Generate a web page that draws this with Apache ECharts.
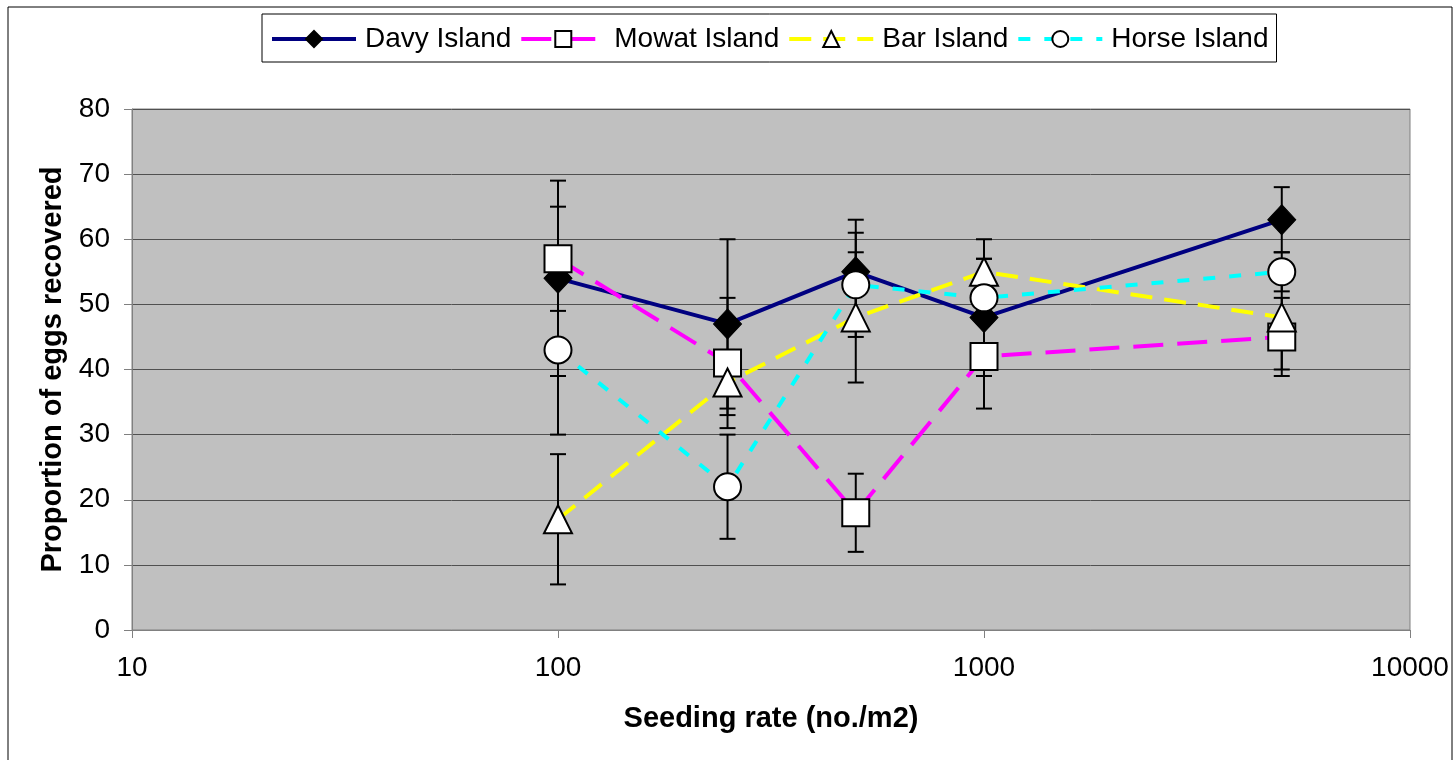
<!DOCTYPE html>
<html>
<head>
<meta charset="utf-8">
<script src="https://cdn.jsdelivr.net/npm/echarts@6/dist/echarts.min.js"></script>
<style>
  html, body { margin: 0; padding: 0; background: #fff; }
  #chart { width: 1456px; height: 760px; }
</style>
</head>
<body>
<div id="chart"></div>
<script>
// seeding rates (no./m2)
const seedingRates = [100, 250, 500, 1000, 5000];

// proportion of eggs recovered, per island
const davy  = [54, 47, 55, 48, 63];
const mowat = [57, 41, 18, 42, 45];
const bar   = [17, 38, 48, 55, 48];
const horse = [43, 22, 53, 51, 55];

// error bar half widths
const davyErr  = [15, 13, 8, 9, 5];
const mowatErr = [8, 10, 6, 8, 6];
const barErr   = [10, 5, 10, 2, 8];
const horseErr = [13, 8, 8, 9, 3];

const yTicks = [0, 10, 20, 30, 40, 50, 60, 70, 80];
const xTicks = [10, 100, 1000, 10000];

const font = 'Liberation Sans, Arial, sans-serif';

function pairs(vals) {
  return seedingRates.map((x, i) => [x, vals[i]]);
}

function errSeries(vals, errs) {
  return {
    type: 'custom',
    z: 1,
    silent: true,
    data: seedingRates.map((x, i) => [x, vals[i], errs[i]]),
    renderItem: function (params, api) {
      const x = api.value(0), y = api.value(1), e = api.value(2);
      const top = api.coord([x, y + e]);
      const bot = api.coord([x, y - e]);
      const w = 8;
      const st = { stroke: '#000', lineWidth: 2 };
      return {
        type: 'group',
        children: [
          { type: 'line', shape: { x1: top[0], y1: top[1], x2: bot[0], y2: bot[1] }, style: st },
          { type: 'line', shape: { x1: top[0] - w, y1: top[1], x2: top[0] + w, y2: top[1] }, style: st },
          { type: 'line', shape: { x1: bot[0] - w, y1: bot[1], x2: bot[0] + w, y2: bot[1] }, style: st }
        ]
      };
    }
  };
}

let myChart = echarts.init(document.getElementById('chart'));

let option = {
  animation: false,
  backgroundColor: '#fff',
  textStyle: { fontFamily: font },
  graphic: [{
    type: 'rect',
    shape: { x: 8, y: 7, width: 1444, height: 800 },
    style: { fill: 'none', stroke: '#000', lineWidth: 1 },
    z: -10
  }],
  legend: {
    data: ['Davy Island', 'Mowat Island', 'Bar Island', 'Horse Island'],
    left: 262,
    top: 14,
    padding: [11, 8, 9, 8],
    itemGap: 8,
    itemWidth: 84,
    itemHeight: 20,
    borderColor: '#000',
    borderWidth: 1,
    lineStyle: { width: 4 },
    textStyle: { fontSize: 28, color: '#000', fontFamily: font, padding: [0, 0, 0, 4] }
  },
  grid: {
    left: 132,
    right: 46,
    top: 109,
    bottom: 130,
    show: true,
    backgroundColor: '#c0c0c0',
    borderColor: '#808080',
    borderWidth: 1
  },
  xAxis: {
    type: 'log',
    logBase: 10,
    min: xTicks[0],
    max: xTicks[xTicks.length - 1],
    name: 'Seeding rate (no./m2)',
    nameLocation: 'middle',
    nameGap: 74,
    nameTextStyle: { fontSize: 29, fontWeight: 'bold', color: '#000', fontFamily: font },
    axisLine: { lineStyle: { color: '#808080', width: 1 } },
    axisTick: { show: true, length: 8, lineStyle: { color: '#808080' } },
    minorTick: { show: false },
    splitLine: { show: false },
    axisLabel: { fontSize: 28, color: '#000', margin: 24, fontFamily: font, formatter: v => String(v) }
  },
  yAxis: {
    type: 'value',
    min: yTicks[0],
    max: yTicks[yTicks.length - 1],
    interval: 10,
    name: 'Proportion of eggs recovered',
    nameLocation: 'middle',
    nameGap: 64,
    nameTextStyle: { fontSize: 29, fontWeight: 'bold', color: '#000', fontFamily: font },
    axisLine: { show: true, lineStyle: { color: '#808080', width: 1 } },
    axisTick: { show: true, length: 8, lineStyle: { color: '#808080' } },
    splitLine: { show: true, lineStyle: { color: '#505050', width: 1 } },
    axisLabel: { fontSize: 28, color: '#000', margin: 22, fontFamily: font }
  },
  series: [
    errSeries(davy, davyErr),
    errSeries(mowat, mowatErr),
    errSeries(bar, barErr),
    errSeries(horse, horseErr),
    {
      name: 'Davy Island',
      type: 'line',
      z: 3,
      data: pairs(davy),
      symbol: 'diamond',
      symbolSize: [28, 30],
      itemStyle: { color: '#000', borderColor: '#000', borderWidth: 1 },
      lineStyle: { color: '#000080', width: 4 }
    },
    {
      name: 'Mowat Island',
      type: 'line',
      z: 3,
      data: pairs(mowat),
      symbol: 'rect',
      symbolSize: 27,
      itemStyle: { color: '#fff', borderColor: '#000', borderWidth: 2 },
      lineStyle: { color: '#ff00ff', width: 4, type: [30, 14] }
    },
    {
      name: 'Bar Island',
      type: 'line',
      z: 3,
      data: pairs(bar),
      symbol: 'triangle',
      symbolSize: 28,
      itemStyle: { color: '#fff', borderColor: '#000', borderWidth: 2 },
      lineStyle: { color: '#ffff00', width: 4, type: [22, 12] }
    },
    {
      name: 'Horse Island',
      type: 'line',
      z: 3,
      data: pairs(horse),
      symbol: 'circle',
      symbolSize: 27,
      itemStyle: { color: '#fff', borderColor: '#000', borderWidth: 2 },
      lineStyle: { color: '#00ffff', width: 4, type: [12, 14] }
    }
  ]
};

myChart.setOption(option);
</script>
</body>
</html>
